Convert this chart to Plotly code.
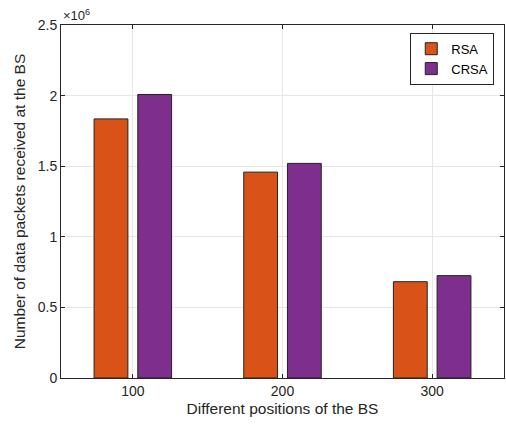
import plotly.graph_objects as go

positions = [100, 200, 300]
rsa = [1.835e6, 1.458e6, 0.682e6]
crsa = [2.008e6, 1.520e6, 0.725e6]
ytick_vals = [0, 0.5e6, 1.0e6, 1.5e6, 2.0e6, 2.5e6]
ytick_text = ["0", "0.5", "1", "1.5", "2", "2.5"]

FONT = "Liberation Sans, Arial, sans-serif"

fig = go.Figure()
fig.add_trace(go.Bar(x=positions, y=rsa, name="RSA",
                     marker=dict(color="#D95319", line=dict(color="#222222", width=1))))
fig.add_trace(go.Bar(x=positions, y=crsa, name="CRSA",
                     marker=dict(color="#7E2F8E", line=dict(color="#222222", width=1))))

fig.update_layout(
    width=506, height=426,
    margin=dict(l=61, r=2, t=25, b=48, autoexpand=False),
    paper_bgcolor="white", plot_bgcolor="white",
    barmode="group", bargap=0.416, bargroupgap=0.226,
    font=dict(family=FONT, size=14, color="#262626"),
    showlegend=True,
    legend=dict(x=0.978, y=0.978, xanchor="right", yanchor="top",
                bgcolor="white", bordercolor="#262626", borderwidth=1,
                font=dict(size=13, color="#000000"),
                tracegroupgap=0, itemwidth=30),
    xaxis=dict(range=[52, 348], tickvals=positions, ticktext=[str(p) for p in positions],
               showgrid=True, gridcolor="#e6e6e6", gridwidth=1,
               showline=True, linecolor="#262626", linewidth=1, mirror="ticks",
               ticks="inside", ticklen=4, tickcolor="#262626",
               zeroline=False, tickfont=dict(size=14),
               title=dict(text="Different positions of the BS", font=dict(size=15.5), standoff=5)),
    yaxis=dict(range=[0, 2.5e6], tickvals=ytick_vals, ticktext=ytick_text,
               showgrid=True, gridcolor="#e6e6e6", gridwidth=1,
               showline=True, linecolor="#262626", linewidth=1, mirror="ticks",
               ticks="inside", ticklen=4, tickcolor="#262626",
               zeroline=False, tickfont=dict(size=14),
               title=dict(text="Number of data packets received at the BS", font=dict(size=15.5), standoff=8)),
    annotations=[dict(text="×10<sup>6</sup>", xref="paper", yref="paper", x=0.0, y=1.0,
                      xanchor="left", yanchor="bottom", showarrow=False,
                      font=dict(size=13, color="#262626"))],
)

fig.write_html("out.html", config={"displayModeBar": False},
               post_script="document.body.style.margin='0';")
